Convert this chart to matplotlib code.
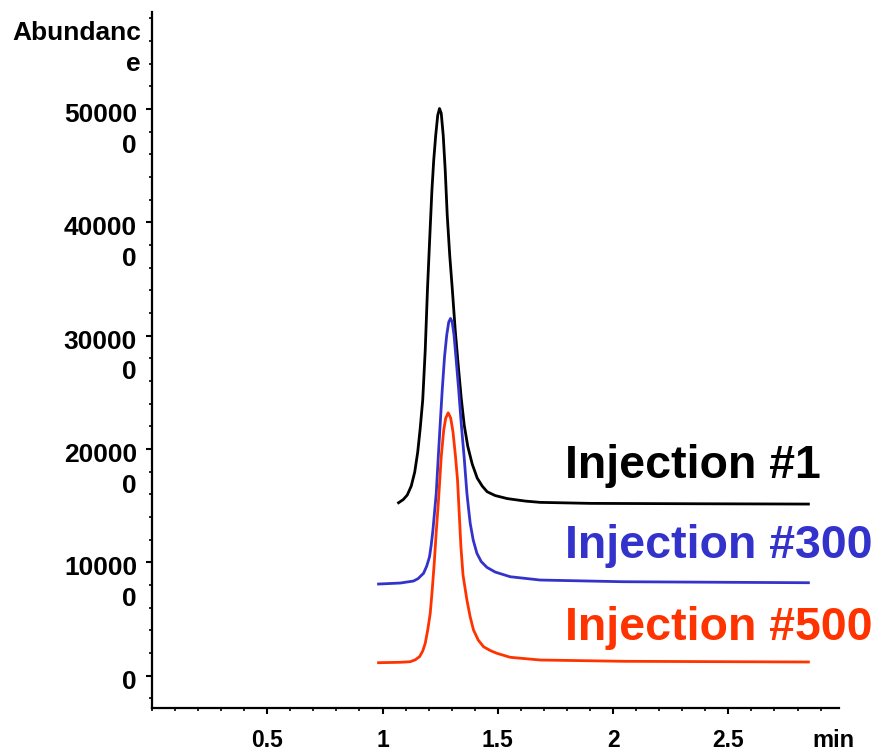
import matplotlib
matplotlib.use('Agg')
import matplotlib.pyplot as plt
from matplotlib.ticker import MultipleLocator

plt.rcParams['font.family'] = ['Liberation Sans', 'DejaVu Sans']
plt.rcParams['font.weight'] = 'bold'

# retention time (min) and abundance
black_x = [1.0694, 1.0898, 1.1071, 1.1245, 1.1396, 1.1526, 1.1635, 1.1743, 1.1852, 1.1951,
           1.2047, 1.2142, 1.2220, 1.2307, 1.2394, 1.2472, 1.2546, 1.2632, 1.2719, 1.2806,
           1.2914, 1.3023, 1.3153, 1.3283, 1.3413, 1.3543, 1.3695, 1.3890, 1.4107, 1.4324,
           1.4540, 1.4887, 1.5408, 1.6188, 1.6839, 1.9007, 2.3777, 2.8473]
black_y = [152550, 155370, 159340, 167280, 179620, 197260, 218420, 243110, 287200, 341870,
           385970, 428290, 454740, 476790, 494420, 500330, 496190, 476790, 445920, 406240,
           370970, 341870, 304840, 273970, 244880, 221070, 202550, 186680, 174330, 167280,
           162250, 158900, 156250, 154050, 152900, 152020, 151670, 151400]

blue_x = [0.9826, 1.0768, 1.1344, 1.1548, 1.1678, 1.1778, 1.1917, 1.2038, 1.2112, 1.2186,
          1.2264, 1.2329, 1.2415, 1.2502, 1.2589, 1.2689, 1.2784, 1.2871, 1.2949, 1.3023,
          1.3101, 1.3183, 1.3304, 1.3413, 1.3543, 1.3660, 1.3738, 1.3803, 1.3933, 1.4094,
          1.4280, 1.4527, 1.4887, 1.5538, 1.6839, 2.0438, 2.8473]
blue_y = [80860, 81740, 83510, 85710, 88360, 90300, 96730, 104930, 115250, 128480,
          146110, 160840, 191970, 222570, 251930, 281290, 300430, 311900, 315160, 311900,
          300430, 281290, 251930, 222570, 191970, 160840, 146110, 134390, 119660, 107930,
          100700, 95590, 91440, 87300, 84390, 82890, 82010]

red_x = [0.9826, 1.0768, 1.1201, 1.1418, 1.1604, 1.1743, 1.1852, 1.1960, 1.2069, 1.2155,
         1.2242, 1.2329, 1.2428, 1.2546, 1.2654, 1.2741, 1.2849, 1.2957, 1.3057, 1.3166,
         1.3253, 1.3326, 1.3400, 1.3491, 1.3660, 1.3803, 1.3946, 1.4150, 1.4380, 1.4670,
         1.4961, 1.5538, 1.6839, 2.0438, 2.8473]
red_y = [11460, 11820, 12350, 14020, 16750, 21780, 28570, 40300, 55020, 75570,
         99110, 126710, 154930, 193110, 216660, 227240, 231910, 227240, 214890, 193110,
         172570, 143470, 113750, 88800, 66750, 51760, 40300, 31480, 25570, 22220,
         19750, 16230, 13840, 12700, 12080]

series_labels = ['Injection #1', 'Injection #300', 'Injection #500']
label_y = [174300, 103800, 31500]
label_x = 1.79

ytick_vals = [0, 100000, 200000, 300000, 400000, 500000]
ytick_labels = ['0', '10000\n0', '20000\n0', '30000\n0', '40000\n0', '50000\n0']
xtick_vals = [0.5, 1, 1.5, 2, 2.5]
xtick_labels = ['0.5', '1', '1.5', '2', '2.5']

colors = ['black', '#3333cc', '#ff3300']


def plot_chromatogram():
    fig = plt.figure(figsize=(8.85, 7.53), dpi=100)
    ax = fig.add_axes([152 / 885, 45 / 753, 687 / 885, 696 / 753])

    for xs, ys, c in zip([black_x, blue_x, red_x], [black_y, blue_y, red_y], colors):
        ax.plot(xs, ys, color=c, lw=2.0, solid_joinstyle='round')

    for lab, yv, c in zip(series_labels, label_y, colors):
        ax.text(label_x, yv, lab, color=c, fontsize=33.5, fontweight='bold', va='baseline')

    ax.set_xlim(0, 2.98)
    ax.set_ylim(-28500, 585500)

    for s in ['top', 'right']:
        ax.spines[s].set_visible(False)
    for s in ['left', 'bottom']:
        ax.spines[s].set_linewidth(1.6)

    ax.set_xticks(xtick_vals)
    ax.set_xticklabels(xtick_labels, fontsize=16.5, fontweight='bold')
    ax.xaxis.set_minor_locator(MultipleLocator(0.1))
    ax.tick_params(axis='x', which='major', length=4, width=1.5, pad=11)
    ax.tick_params(axis='x', which='minor', length=2, width=1.2)

    ax.set_yticks(ytick_vals)
    ax.set_yticklabels([])
    ax.yaxis.set_minor_locator(MultipleLocator(20000))
    ax.tick_params(axis='y', which='major', length=4, width=1.5)
    ax.tick_params(axis='y', which='minor', length=2, width=1.2)

    for v, lab in zip(ytick_vals, ytick_labels):
        ax.annotate(lab, xy=(0, v), xycoords=('axes fraction', 'data'),
                    xytext=(-15, 6), textcoords='offset pixels',
                    ha='right', va='top', fontsize=19, fontweight='bold',
                    linespacing=1.35)

    fig.text(141 / 885, 1 - 21 / 753, 'Abundanc\ne', ha='right', va='top',
             fontsize=19, fontweight='bold', linespacing=1.35)
    fig.text(833 / 885, 1 - 747 / 753, 'min', ha='center', va='baseline',
             fontsize=17, fontweight='bold')

    fig.savefig('out.png', dpi=100)


if __name__ == '__main__':
    plot_chromatogram()
